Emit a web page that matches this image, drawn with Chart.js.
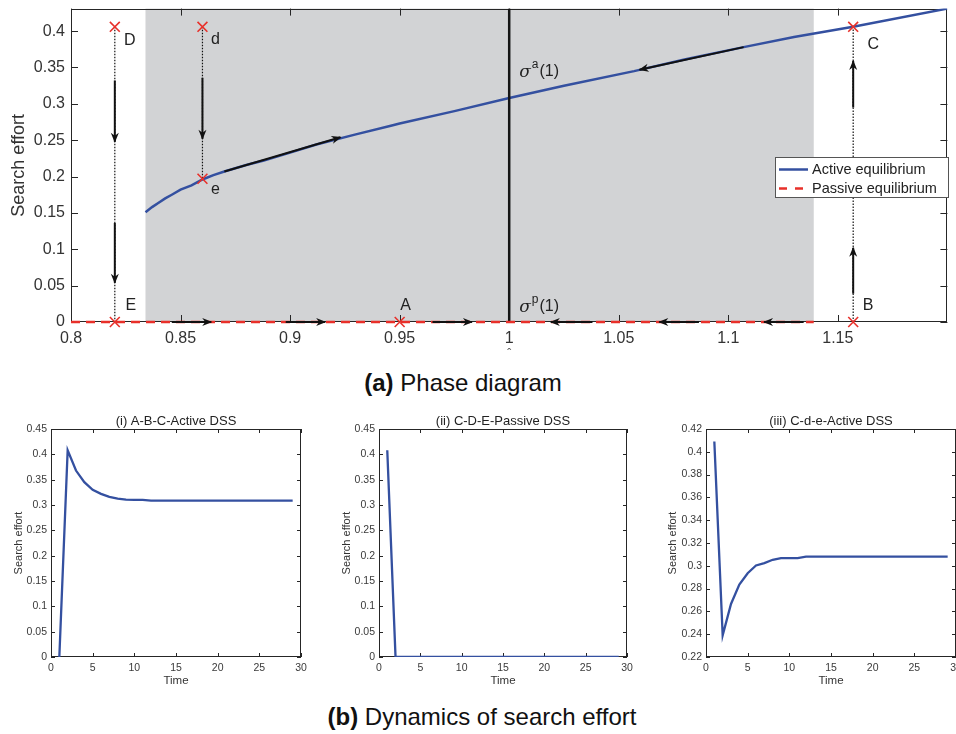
<!DOCTYPE html>
<html>
<head>
<meta charset="utf-8">
<script src="https://cdn.jsdelivr.net/npm/chart.js@4.4.0/dist/chart.umd.min.js"></script>
<style>
  body { margin: 0; background: #fff; width: 956px; height: 734px; position: relative; overflow: hidden;
         font-family: "Liberation Sans", Arial, sans-serif; }
  canvas { position: absolute; }
  .cap { position: absolute; left: 0; text-align: center; font-size: 24px; line-height: 28px; color: #111; white-space: nowrap; }
</style>
</head>
<body>
<canvas id="phase" width="956" height="362" style="left:0;top:0"></canvas>
<div class="cap" style="top:369px;width:926px"><b>(a)</b> Phase diagram</div>
<canvas id="dyn1" width="320" height="300" style="left:0;top:400px"></canvas>
<canvas id="dyn2" width="320" height="300" style="left:320px;top:400px"></canvas>
<canvas id="dyn3" width="316" height="300" style="left:640px;top:400px"></canvas>
<div class="cap" style="top:703px;width:964px"><b>(b)</b> Dynamics of search effort</div>
<script>
// ---- phase diagram data ----
const activeX = [0.834, 0.837, 0.840, 0.843, 0.846, 0.850, 0.855, 0.860, 0.865, 0.870, 0.880, 0.888,
                 0.900, 0.912, 0.930, 0.946, 0.950, 0.975, 1.000, 1.025, 1.057, 1.080, 1.107, 1.130, 1.157, 1.200];
const activeY = [0.151, 0.158, 0.164, 0.170, 0.175, 0.182, 0.188, 0.196, 0.202, 0.207, 0.216, 0.222,
                 0.233, 0.244, 0.258, 0.270, 0.273, 0.290, 0.308, 0.325, 0.345, 0.361, 0.378, 0.392, 0.406, 0.431];
const passiveX = [0.8, 1.139];
const passiveY = [0, 0];
const activeBand = [0.834, 1.139];
const phaseXTicks = [0.8, 0.85, 0.9, 0.95, 1, 1.05, 1.1, 1.15];
const phaseYTicks = [0, 0.05, 0.1, 0.15, 0.2, 0.25, 0.3, 0.35, 0.4];

const pointNames = ['D', 'd', 'e', 'E', 'A', 'B', 'C'];
const pointX = [0.82, 0.86, 0.86, 0.82, 0.95, 1.157, 1.157];
const pointY = [0.406, 0.406, 0.197, 0, 0, 0, 0.406];

// dotted trajectories [x0, y0, x1, y1]
const trajectories = [
  [0.82, 0.406, 0.82, 0],
  [0.86, 0.406, 0.86, 0.197],
  [1.157, 0, 1.157, 0.406]
];
// direction arrows [x0, y0, x1, y1]
const arrows = [
  [0.846, 0, 0.864, 0],
  [0.898, 0, 0.916, 0],
  [0.965, 0, 0.983, 0],
  [1.038, 0, 1.019, 0],
  [1.0866, 0, 1.0685, 0],
  [1.1344, 0, 1.1163, 0],
  [0.870, 0.207, 0.923, 0.254],
  [1.107, 0.378, 1.0595, 0.347],
  [0.82, 0.332, 0.82, 0.248],
  [0.82, 0.136, 0.82, 0.054],
  [0.86, 0.336, 0.86, 0.252],
  [1.157, 0.039, 1.157, 0.102],
  [1.157, 0.295, 1.157, 0.359]
];
const sigmaLabels = [['a', 1, 0.308], ['p', 1, 0]];

// ---- dynamics data ----
const time = [1, 2, 3, 4, 5, 6, 7, 8, 9, 10, 11, 12, 13, 14, 15, 16, 17, 18, 19, 20, 21, 22, 23, 24, 25, 26, 27, 28, 29];
const effortABC = [0, 0.408, 0.368, 0.345, 0.330, 0.322, 0.316, 0.3125, 0.3105, 0.310, 0.310, 0.3086, 0.3086, 0.3086, 0.3086,
                   0.3086, 0.3086, 0.3086, 0.3086, 0.3086, 0.3086, 0.3086, 0.3086, 0.3086, 0.3086, 0.3086, 0.3086, 0.3086, 0.3086];
const effortCDE = [0.408, 0, 0, 0, 0, 0, 0, 0, 0, 0, 0, 0, 0, 0, 0, 0, 0, 0, 0, 0, 0, 0, 0, 0, 0, 0, 0, 0, 0];
const effortCde = [0.409, 0.239, 0.2665, 0.2835, 0.2935, 0.3003, 0.3024, 0.3053, 0.3068, 0.3068, 0.3068, 0.308, 0.308, 0.308, 0.308,
                   0.308, 0.308, 0.308, 0.308, 0.308, 0.308, 0.308, 0.308, 0.308, 0.308, 0.308, 0.308, 0.308, 0.308];
const dynXTicks = [0, 5, 10, 15, 20, 25, 30];
const dynYTicks = [0, 0.05, 0.1, 0.15, 0.2, 0.25, 0.3, 0.35, 0.4, 0.45];
const dynYTicks3 = [0.22, 0.24, 0.26, 0.28, 0.3, 0.32, 0.34, 0.36, 0.38, 0.4, 0.42];

const BLUE = '#3450a0', RED = '#e8302a', INK = '#262626';
const FONT = '"Liberation Sans", Arial, sans-serif';
const fmt = v => String(+Number(v).toFixed(4));
const pairs = (xs, ys) => xs.map((x, i) => ({x, y: ys[i]}));
// keep the plot box exactly where the layout padding puts it
const noPad = s => { s.paddingTop = 0; s.paddingBottom = 0; s.paddingLeft = 0; s.paddingRight = 0; };

// gray band + box + inward ticks, drawn under the datasets
const boxTicks = {
  id: 'boxTicks',
  beforeDatasetsDraw(chart, args, o) {
    const {ctx, chartArea: a, scales: {x, y}} = chart;
    ctx.save();
    if (o.band) {
      const l = x.getPixelForValue(o.band[0]), r = x.getPixelForValue(o.band[1]);
      ctx.fillStyle = '#d2d3d5';
      ctx.fillRect(l, a.top, r - l, a.bottom - a.top);
    }
    const len = o.len;
    ctx.strokeStyle = INK;
    ctx.lineWidth = 1;
    ctx.beginPath();
    x.ticks.forEach(t => {
      const p = Math.round(x.getPixelForValue(t.value)) + 0.5;
      ctx.moveTo(p, a.bottom); ctx.lineTo(p, a.bottom - len);
      ctx.moveTo(p, a.top); ctx.lineTo(p, a.top + len);
    });
    y.ticks.forEach(t => {
      const p = Math.round(y.getPixelForValue(t.value)) + 0.5;
      ctx.moveTo(a.left, p); ctx.lineTo(a.left + len, p);
      ctx.moveTo(a.right, p); ctx.lineTo(a.right - len, p);
    });
    ctx.stroke();
    ctx.strokeRect(Math.round(a.left) + 0.5, Math.round(a.top) + 0.5,
                   Math.round(a.right - a.left) - 1, Math.round(a.bottom - a.top) - 1);
    ctx.restore();
  }
};

const arrowHeads = {
  id: 'arrowHeads',
  afterDatasetsDraw(chart) {
    const ctx = chart.ctx;
    chart.data.datasets.forEach((ds, i) => {
      if (!ds.arrow) return;
      const pts = chart.getDatasetMeta(i).data;
      const a = pts[0], b = pts[1];
      const ang = Math.atan2(b.y - a.y, b.x - a.x);
      ctx.save();
      ctx.translate(b.x, b.y);
      ctx.rotate(ang);
      ctx.beginPath();
      ctx.moveTo(1, 0); ctx.lineTo(-9, -4); ctx.lineTo(-6, 0); ctx.lineTo(-9, 4); ctx.closePath();
      ctx.fillStyle = '#111';
      ctx.fill();
      ctx.restore();
    });
  }
};

const pointLabels = {
  id: 'pointLabels',
  afterDatasetsDraw(chart, args, o) {
    const {ctx, scales: {x, y}} = chart;
    ctx.save();
    ctx.fillStyle = '#222';
    ctx.textBaseline = 'middle';
    ctx.textAlign = 'center';
    ctx.font = '16px ' + FONT;
    pointNames.forEach((n, i) => {
      const off = o.offsets[n];
      ctx.fillText(n, x.getPixelForValue(pointX[i]) + off[0], y.getPixelForValue(pointY[i]) + off[1]);
    });
    ctx.textAlign = 'left';
    sigmaLabels.forEach(([sup, sx, sy]) => {
      let px = x.getPixelForValue(sx) + 10;
      const py = y.getPixelForValue(sy) + (sy > 0 ? -26 : -15);
      ctx.font = 'italic 17px "DejaVu Serif", serif';
      ctx.fillText('σ', px, py + 1);
      px += ctx.measureText('σ').width + 1;
      ctx.font = '12px ' + FONT;
      ctx.fillText(sup, px, py - 7);
      px += ctx.measureText(sup).width + 1;
      ctx.font = '16px ' + FONT;
      ctx.fillText('(1)', px, py);
    });
    ctx.restore();
  }
};

const boxLegend = {
  id: 'boxLegend',
  afterDraw(chart, args, o) {
    const ctx = chart.ctx;
    ctx.save();
    ctx.fillStyle = '#fff';
    ctx.fillRect(o.left, o.top, o.width, o.height);
    ctx.strokeStyle = '#555';
    ctx.lineWidth = 1;
    ctx.strokeRect(o.left + 0.5, o.top + 0.5, o.width, o.height);
    chart.data.datasets.filter(d => d.inLegend).forEach((d, i) => {
      const yy = o.top + 12.5 + i * 19;
      ctx.strokeStyle = d.borderColor;
      ctx.lineWidth = d.borderWidth;
      ctx.setLineDash(d.legendDash || []);
      ctx.beginPath(); ctx.moveTo(o.left + 4, yy); ctx.lineTo(o.left + 33, yy); ctx.stroke();
      ctx.setLineDash([]);
      ctx.fillStyle = '#222';
      ctx.font = '14.5px ' + FONT;
      ctx.textBaseline = 'middle';
      ctx.fillText(d.label, o.left + 37, yy);
    });
    ctx.restore();
  }
};

const panelTitle = {
  id: 'panelTitle',
  afterDraw(chart, args, o) {
    if (!o.text) return;
    const {ctx, chartArea: a} = chart;
    ctx.save();
    ctx.font = '13px ' + FONT;
    ctx.fillStyle = '#222';
    ctx.textAlign = 'center';
    ctx.textBaseline = 'middle';
    ctx.fillText(o.text, (a.left + a.right) / 2, a.top - 8);
    ctx.restore();
  }
};

// ---- phase diagram ----
const phaseSets = [
  {label: 'markers', data: pairs(pointX, pointY), showLine: false, pointStyle: 'crossRot', pointRadius: 7,
   pointBorderColor: RED, pointBorderWidth: 1.6, clip: false, order: 0},
  ...arrows.map(a => ({data: [{x: a[0], y: a[1]}, {x: a[2], y: a[3]}], arrow: true, showLine: true,
                       borderColor: '#111', borderWidth: 2, pointRadius: 0, clip: false, order: 1})),
  {label: 'Active equilibrium', inLegend: true, data: pairs(activeX, activeY), showLine: true,
   borderColor: BLUE, borderWidth: 2.5, pointRadius: 0, order: 4},
  {label: 'Passive equilibrium', inLegend: true, data: pairs(passiveX, passiveY), showLine: true,
   borderColor: RED, borderWidth: 2.5, borderDash: [9, 6], legendDash: [8, 8], pointRadius: 0, clip: false, order: 2},
  {label: 'sigma line', data: [{x: 1, y: 0}, {x: 1, y: 0.431}], showLine: true, borderColor: '#151515',
   borderWidth: 2.5, pointRadius: 0, order: 3},
  ...trajectories.map(t => ({data: [{x: t[0], y: t[1]}, {x: t[2], y: t[3]}], showLine: true,
                             borderColor: '#111', borderWidth: 1.2, borderDash: [1.5, 1.5], pointRadius: 0, order: 5}))
];

new Chart(document.getElementById('phase'), {
  type: 'scatter',
  data: {datasets: phaseSets},
  plugins: [boxTicks, arrowHeads, pointLabels, boxLegend],
  options: {
    responsive: false,
    animation: false,
    events: [],
    layout: {padding: {top: 5, right: 1, left: 0, bottom: 0}},
    plugins: {
      legend: {display: false},
      tooltip: {enabled: false},
      boxTicks: {len: 7, band: activeBand},
      pointLabels: {offsets: {D: [15, 14], d: [13, 13], e: [13, 11], E: [16, -16], A: [6, -16], B: [15, -16], C: [20, 18]}},
      boxLegend: {left: 775, top: 157, width: 173, height: 40}
    },
    scales: {
      x: {
        type: 'linear', min: 0.8, max: 1.2,
        grid: {display: false, drawTicks: false}, border: {display: false},
        afterBuildTicks: s => { s.ticks = phaseXTicks.map(v => ({value: v})); },
        afterFit: s => { s.height = 40; noPad(s); },
        ticks: {padding: 7, color: '#333', font: {family: FONT, size: 16}, callback: fmt, maxRotation: 0},
        title: {display: true, text: 'ˆ', color: '#555', font: {family: FONT, size: 12}, padding: {top: 0, bottom: 0}}
      },
      y: {
        type: 'linear', min: 0, max: 0.431,
        grid: {display: false, drawTicks: false}, border: {display: false},
        afterBuildTicks: s => { s.ticks = phaseYTicks.map(v => ({value: v})); },
        afterFit: s => { s.width = 71; noPad(s); },
        ticks: {padding: 6, color: '#333', font: {family: FONT, size: 16}, callback: fmt},
        title: {display: true, text: 'Search effort', color: '#333', font: {family: FONT, size: 18}, padding: {top: 8, bottom: 0}}
      }
    }
  }
});

// ---- dynamics panels ----
function dynChart(id, values, yMin, yMax, yTicks, title, leftW, rightPad, yTitlePad) {
  new Chart(document.getElementById(id), {
    type: 'line',
    data: {labels: time, datasets: [{data: pairs(time, values), borderColor: BLUE, borderWidth: 2.3,
                                     pointRadius: 0, tension: 0, fill: false}]},
    plugins: [boxTicks, panelTitle],
    options: {
      responsive: false,
      animation: false,
      events: [],
      layout: {padding: {top: 29, right: rightPad, left: 0, bottom: 0}},
      plugins: {legend: {display: false}, tooltip: {enabled: false}, boxTicks: {len: 4}, panelTitle: {text: title}},
      scales: {
        x: {
          type: 'linear', min: 0, max: 30,
          grid: {display: false, drawTicks: false}, border: {display: false},
          afterBuildTicks: s => { s.ticks = dynXTicks.map(v => ({value: v})); },
          afterFit: s => { s.height = 43; noPad(s); },
          ticks: {padding: 5, color: '#3a3a3a', font: {family: FONT, size: 10.5}, callback: fmt, maxRotation: 0},
          title: {display: true, text: 'Time', color: '#333', font: {family: FONT, size: 11.5}, padding: {top: 0, bottom: 12}}
        },
        y: {
          type: 'linear', min: yMin, max: yMax,
          grid: {display: false, drawTicks: false}, border: {display: false},
          afterBuildTicks: s => { s.ticks = yTicks.map(v => ({value: v})); },
          afterFit: s => { s.width = leftW; noPad(s); },
          ticks: {padding: 4, color: '#3a3a3a', font: {family: FONT, size: 10.5}, callback: fmt},
          title: {display: true, text: 'Search effort', color: '#333', font: {family: FONT, size: 11}, padding: {top: yTitlePad, bottom: 0}}
        }
      }
    }
  });
}

dynChart('dyn1', effortABC, 0, 0.45, dynYTicks, '(i) A-B-C-Active DSS', 51, 19, 12);
dynChart('dyn2', effortCDE, 0, 0.45, dynYTicks, '(ii) C-D-E-Passive DSS', 59, 13, 20);
dynChart('dyn3', effortCde, 0.22, 0.42, dynYTicks3, '(iii) C-d-e-Active DSS', 66, 0, 26);
</script>
</body>
</html>
